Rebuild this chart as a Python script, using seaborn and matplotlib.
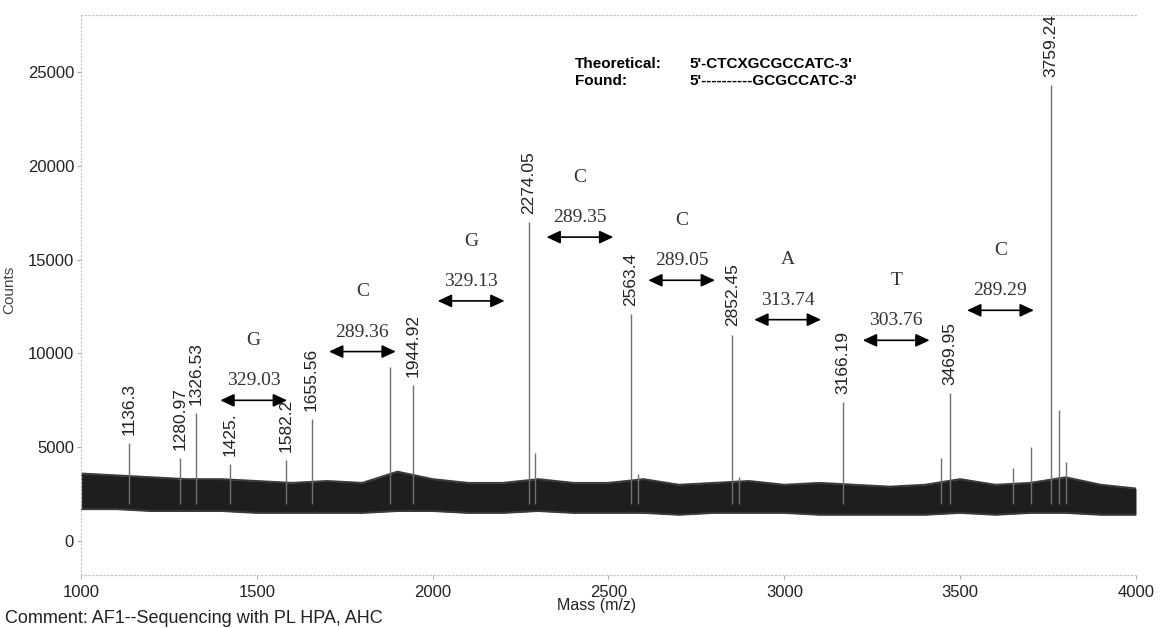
import numpy as np
import pandas as pd
import matplotlib
matplotlib.use("Agg")
import matplotlib.pyplot as plt
import seaborn as sns

# ---------------- data ----------------
noise_mass = [1000, 1100, 1200, 1300, 1400, 1500, 1600, 1700, 1800, 1900, 2000,
              2100, 2200, 2300, 2400, 2500, 2600, 2700, 2800, 2900, 3000,
              3100, 3200, 3300, 3400, 3500, 3600, 3700, 3800, 3900, 4000]
noise_upper = [3600, 3500, 3400, 3300, 3300, 3200, 3100, 3200, 3100, 3700, 3300,
               3100, 3100, 3300, 3100, 3100, 3300, 3000, 3100, 3200, 3000,
               3100, 3000, 2900, 3000, 3300, 3000, 3100, 3400, 3000, 2800]
noise_lower = [1700, 1700, 1600, 1600, 1600, 1500, 1500, 1500, 1500, 1600, 1600,
               1500, 1500, 1600, 1500, 1500, 1500, 1400, 1500, 1500, 1500,
               1400, 1400, 1400, 1400, 1500, 1400, 1500, 1500, 1400, 1400]

peak_mass = [1136.3, 1280.97, 1326.53, 1425.0, 1582.2, 1655.56, 1880.0, 1944.92,
             2274.05, 2290.0, 2563.4, 2583.0, 2852.45, 2870.0, 3166.19, 3445.0,
             3469.95, 3650.0, 3700.0, 3759.24, 3782.0, 3800.0]
peak_height = [5200, 4400, 6800, 4100, 4300, 6500, 9300, 8300,
               17000, 4700, 12100, 3600, 11000, 3400, 7400, 4400,
               7900, 3900, 5000, 24300, 7000, 4200]
peak_labels = ["1136.3", "1280.97", "1326.53", "1425.", "1582.2", "1655.56", "", "1944.92",
               "2274.05", "", "2563.4", "", "2852.45", "", "3166.19", "",
               "3469.95", "", "", "3759.24", "", ""]

ladder_mass = [1326.53, 1655.56, 1944.92, 2274.05, 2563.4, 2852.45, 3166.19, 3469.95, 3759.24]
ladder_bases = ["G", "C", "G", "C", "C", "A", "T", "C"]
ladder_diffs = ["329.03", "289.36", "329.13", "289.35", "289.05", "313.74", "303.76", "289.29"]

x_ticks = [1000, 1500, 2000, 2500, 3000, 3500, 4000]
y_ticks = [0, 5000, 10000, 15000, 20000, 25000]

seq_theoretical = "5'-CTCXGCGCCATC-3'"
seq_found = "5'----------GCGCCATC-3'"
comment = "Comment: AF1--Sequencing with PL HPA, AHC"

# ---------------- layout / style ----------------
arrow_levels = [7500, 10100, 12800, 16200, 13900, 11800, 10700, 12300]
arrow_half = 95

sns.set_theme(style="white")
plt.rcParams["font.family"] = ["Liberation Sans", "DejaVu Sans"]
SERIF = ["Liberation Serif", "DejaVu Serif"]

W, H = 1163, 628
fig = plt.figure(figsize=(W / 100, H / 100), dpi=100)
L, R, T, B = 81, 1136, 15, 575
ax = fig.add_axes([L / W, (H - B) / H, (R - L) / W, (B - T) / H])

ax.set_xlim(1000, 4000)
ax.set_ylim(-1810, 28040)

noise_df = pd.DataFrame({"mass": noise_mass, "upper": noise_upper, "lower": noise_lower})
ax.fill_between(noise_df["mass"], noise_df["lower"], noise_df["upper"],
                color="#1e1e1e", lw=0, zorder=2)
sns.lineplot(data=noise_df, x="mass", y="upper", ax=ax, color="#3a3a3a", lw=1.4, zorder=2)
sns.lineplot(data=noise_df, x="mass", y="lower", ax=ax, color="#3a3a3a", lw=1.4, zorder=2)

ax.vlines(peak_mass, 2000, peak_height, color="#707070", lw=1.0, zorder=3)

for m, h, lab in zip(peak_mass, peak_height, peak_labels):
    if lab:
        ax.annotate(lab, xy=(m, h), xytext=(0, 6), textcoords="offset points",
                    rotation=90, ha="center", va="bottom", fontsize=12.5, color="#222222")

for i in range(len(ladder_bases)):
    mid = (ladder_mass[i] + ladder_mass[i + 1]) / 2
    y = arrow_levels[i]
    ax.annotate("", xy=(mid - arrow_half, y), xytext=(mid + arrow_half, y),
                arrowprops=dict(arrowstyle="<|-|>,head_length=0.6,head_width=0.28",
                                mutation_scale=14, lw=1.2, color="black",
                                shrinkA=0, shrinkB=0))
    ax.annotate(ladder_diffs[i], xy=(mid, y), xytext=(0, 14), textcoords="offset points",
                ha="center", va="center", family=SERIF, fontsize=14, color="#333333")
    ax.annotate(ladder_bases[i], xy=(mid, y), xytext=(0, 43), textcoords="offset points",
                ha="center", va="center", family=SERIF, fontsize=14, color="#333333")

for txt, xf, yf in [("Theoretical:", 0.468, 0.9125), (seq_theoretical, 0.577, 0.9125),
                    ("Found:", 0.468, 0.882), (seq_found, 0.577, 0.882)]:
    ax.text(xf, yf, txt, transform=ax.transAxes, ha="left", va="center",
            fontsize=11, fontweight="bold", color="black")

ax.set_xticks(x_ticks)
ax.set_xticklabels([str(v) for v in x_ticks])
ax.set_yticks(y_ticks)
ax.set_yticklabels([str(v) for v in y_ticks])
ax.tick_params(axis="both", which="both", bottom=True, left=True, direction="out",
               length=3, width=0.8, color="#aaaaaa", labelsize=12, labelcolor="#222222")
ax.tick_params(axis="x", pad=4)
ax.tick_params(axis="y", pad=2)

for side in ["top", "left", "bottom"]:
    ax.spines[side].set_visible(True)
    ax.spines[side].set_color("#c8c8c8")
    ax.spines[side].set_linestyle((0, (1, 2)))
    ax.spines[side].set_linewidth(0.9)
ax.spines["right"].set_visible(False)

ax.set_xlabel("Mass (m/z)", fontsize=11.5, color="#222222")
ax.xaxis.set_label_coords(0.489, -0.041)
ax.set_ylabel("Counts", fontsize=11, color="#444444")
ax.yaxis.set_label_coords(-0.061, 0.509)

fig.text(5 / W, 5 / H, comment, ha="left", va="baseline", fontsize=13, color="#222222")

fig.savefig("out.png", dpi=100)
